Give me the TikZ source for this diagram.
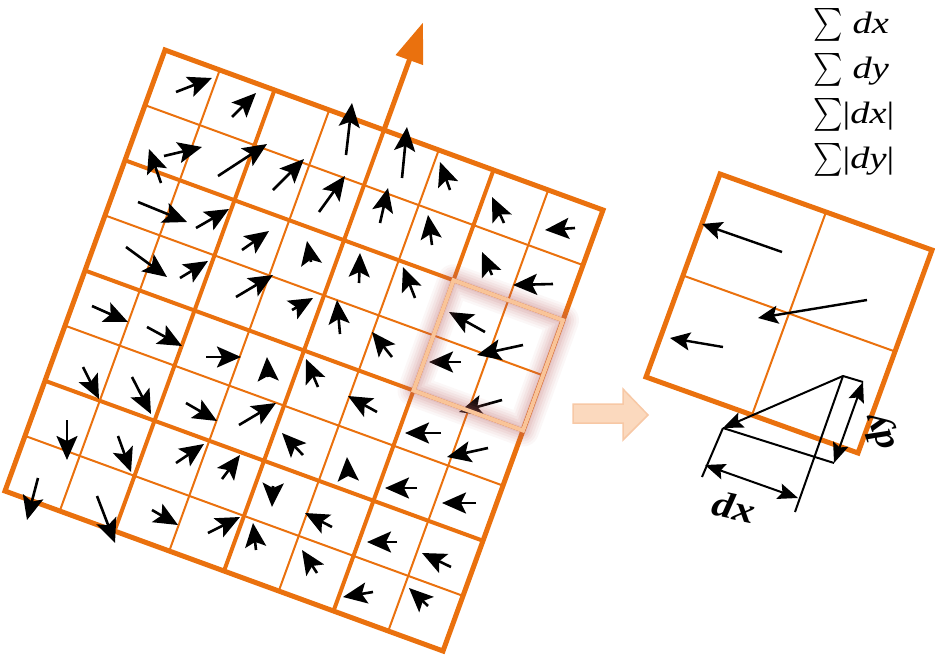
\documentclass[tikz,border=0pt]{standalone}
\usepackage{exscale}
\usepackage{fontspec}
\setmainfont{Liberation Serif}
\usetikzlibrary{arrows.meta}
\definecolor{org}{RGB}{234,113,14}
\definecolor{peach}{RGB}{249,196,152}
\definecolor{peachfill}{RGB}{251,217,190}
\definecolor{peachline}{RGB}{247,200,165}
\definecolor{glow}{RGB}{185,95,95}
\newcommand{\bigsig}{\scalebox{1.12}[1.32]{$\sum$}}
\begin{document}
\begin{tikzpicture}[x=1pt,y=-1pt,
  garrow/.style={line width=2.6pt,-{Stealth[length=24pt,width=21pt,inset=5pt]}},
  parrow/.style={line width=2.4pt,-{Stealth[length=20pt,width=18pt,inset=4pt]}},
  dline/.style={line width=2pt},
  dimarrow/.style={line width=2pt,{Stealth[length=20pt,width=16pt,inset=3.5pt]}-{Stealth[length=20pt,width=16pt,inset=3.5pt]}},
  thinline/.style={org,line width=2pt},
  midline/.style={org,line width=4pt},
  borderline/.style={org,line width=5pt,line join=miter},
  sumtext/.style={anchor=base west,inner sep=0pt,font=\fontsize{30}{30}\selectfont},
  dimlabel/.style={inner sep=0pt,font=\fontsize{36}{36}\selectfont\bfseries\itshape}]
\useasboundingbox (0,0) rectangle (935,656);

% ---------- main grid ----------
\begin{scope}[shift={(165pt,-50pt)},x={(54.75pt,-20pt)},y={(-20pt,-55.125pt)}]
  \foreach \k in {1,3,5,7}{
    \draw[thinline] (\k,0) -- (\k,8);
    \draw[thinline] (0,\k) -- (8,\k);
  }
  \foreach \k in {2,4,6}{
    \draw[midline] (\k,0) -- (\k,8);
    \draw[midline] (0,\k) -- (8,\k);
  }
  \draw[borderline] (0,0) -- (8,0) -- (8,8) -- (0,8) -- cycle;
  \coordinate (obase) at (4,0);
  \coordinate (otip) at (4,-1.95);
  \draw[org,line width=5pt,-{Triangle[length=40pt,width=28pt]}] (obase) -- (otip);
\end{scope}

% ---------- gradient arrows ----------
\foreach \ax/\ay/\bx/\by in {
 176/92/212/78, 232/117/256/93, 164/156/202/147, 161/183/149/149,
 218/176/267/144, 273/190/304/159, 138/202/187/222, 196/228/229/209,
 126/247/167/277, 180/278/208/261, 242/250/269/231, 311/262/307/241,
 236/297/273/275, 292/310/313/298, 92/306/128/322,
 346/155/352/103, 402/178/407/127, 319/212/345/176, 450/190/440/162,
 380/223/388/188, 504/223/492/197, 575/228/545/230, 432/245/428/215,
 359/283/360/253, 492/275/482/252, 553/284/513/285, 415/298/403/267,
 340/334/337/300, 485/332/449/312, 523/345/477/355, 461/362/429/362,
 502/400/459/412, 441/433/405/433,
 147/327/182/346, 206/357/241/357, 268/377/267/357, 318/387/306/359,
 83/367/99/399, 132/377/151/414, 186/403/217/421, 239/425/276/403,
 303/455/282/433, 67/420/67/460, 118/436/131/472, 176/463/204/444,
 222/479/240/455, 38/478/27/520, 97/496/115/543, 152/510/178/525,
 208/533/240/517, 273/486/272/507, 256/550/253/523, 332/527/305/513,
 317/573/302/550,
 392/357/372/332, 377/412/348/396, 488/448/447/457, 348/476/347/457,
 417/488/385/488, 476/503/442/503, 397/542/367/542, 451/567/422/553,
 373/592/343/597, 428/606/409/588}{
  \draw[garrow] (\ax,\ay) -- (\bx,\by);
}

% ---------- highlighted sub-region ----------
\begin{scope}[shift={(165pt,-50pt)},x={(54.75pt,-20pt)},y={(-20pt,-55.125pt)}]
  \foreach \w/\o in {32/0.05,27/0.06,22/0.07,17/0.08,12/0.1,7/0.12}{
    \draw[glow,line width=\w pt,opacity=\o,line join=round] (6,2) -- (8,2) -- (8,4) -- (6,4) -- cycle;
  }
  \draw[peach,line width=4pt,line join=miter] (6,2) -- (8,2) -- (8,4) -- (6,4) -- cycle;
\end{scope}

% ---------- block arrow ----------
\draw[peachline,fill=peachfill,line width=1.5pt,line join=miter]
  (573,404) -- (623,404) -- (623,389) -- (648,415) -- (623,440) -- (623,423) -- (573,423) -- cycle;

% ---------- zoomed sub-region ----------
\begin{scope}[shift={(720pt,-174pt)},x={(106pt,-38pt)},y={(-37pt,-101.5pt)}]
  \draw[thinline] (1,0) -- (1,2);
  \draw[thinline] (0,1) -- (2,1);
  \draw[borderline] (0,0) -- (2,0) -- (2,2) -- (0,2) -- cycle;
\end{scope}
\draw[parrow] (782,252) -- (702,224);
\draw[parrow] (867,300) -- (758,318);
\draw[parrow] (723,347) -- (670,338);

% ---------- dx / dy decomposition ----------
\coordinate (A) at (843,376);
\coordinate (B) at (723,428);
\coordinate (C) at (863,382);
\coordinate (D) at (834,463);
\coordinate (E) at (795,512);
\coordinate (F) at (702,477);
\coordinate (G) at (705,465);
\coordinate (H) at (798,498);
\draw[dline] (A) -- (C);
\draw[dline] (A) -- (E);
\draw[dline] (B) -- (D);
\draw[dline] (B) -- (F);
\draw[line width=2pt,-{Stealth[length=20pt,width=16pt,inset=3.5pt]}] (A) -- (B);
\draw[dimarrow] (C) -- (D);
\draw[dimarrow] (G) -- (H);
\node[dimlabel,rotate=-12] (dxl) at (734,507) {\scalebox{1.2}[1]{dx}};
\node[dimlabel,rotate=110] (dyl) at (881,431) {\scalebox{1.1}[1]{dy}};

% ---------- sums ----------
\node[sumtext] (s1) at (813,33) {\bigsig\hspace{10pt}\scalebox{1.28}[1.03]{\textit{dx}}};
\node[sumtext] (s2) at (813,78) {\bigsig\hspace{10pt}\scalebox{1.28}[1.03]{\textit{dy}}};
\node[sumtext] (s3) at (813,123) {\bigsig\scalebox{1.28}[1.03]{|\textit{dx}|}};
\node[sumtext] (s4) at (813,168) {\bigsig\scalebox{1.28}[1.03]{|\textit{dy}|}};
\end{tikzpicture}
\end{document}
